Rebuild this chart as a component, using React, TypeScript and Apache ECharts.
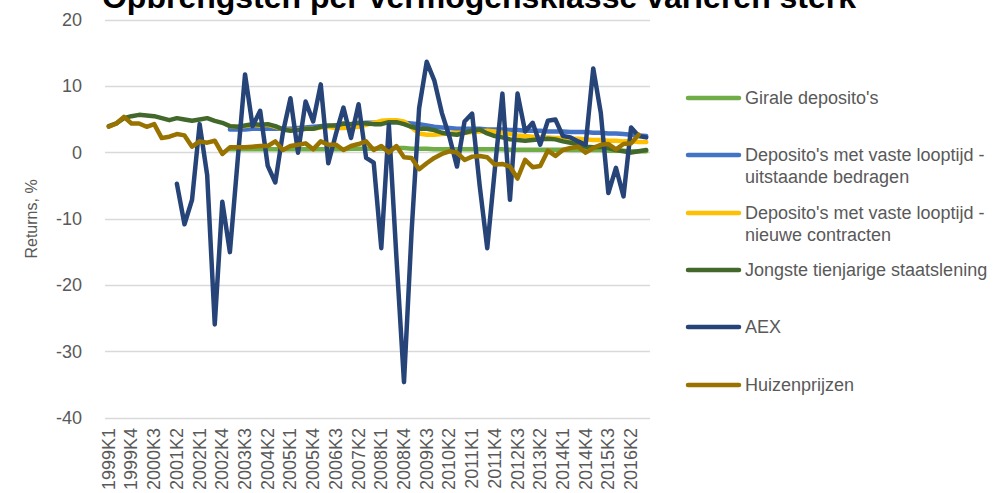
import React, { useEffect, useRef } from "react";
import * as echarts from "echarts";

const years = [1999, 2000, 2001, 2002, 2003, 2004, 2005, 2006, 2007, 2008, 2009, 2010, 2011, 2012, 2013, 2014, 2015, 2016];
const quarters = ["K1", "K2", "K3", "K4"];
const categories: string[] = [];
years.forEach((y) => quarters.forEach((q) => categories.push(`${y}${q}`)));

const title = "Opbrengsten per vermogensklasse variëren sterk";
const yAxisName = "Returns, %";

const N = null;

const girale = [
  N, N, N, N, N, N, N, N, N, N, N, N, N, N, N, N,
  0.5, 0.5, 0.5, 0.5, 0.5, 0.5, 0.5, 0.5, 0.5, 0.5, 0.5, 0.5, 0.5, 0.5, 0.5, 0.5,
  0.6, 0.6, 0.6, 0.6, 0.6, 0.6, 0.7, 0.7, 0.6, 0.6, 0.6, 0.5, 0.5, 0.5, 0.5, 0.5,
  0.5, 0.5, 0.5, 0.5, 0.5, 0.45, 0.45, 0.45, 0.45, 0.45, 0.45, 0.45, 0.45, 0.4, 0.4, 0.4,
  0.4, 0.4, 0.3, 0.3, 0.3, 0.2, 0.2, 0.2,
];

const uitstaande = [
  N, N, N, N, N, N, N, N, N, N, N, N, N, N, N, N,
  3.5, 3.5, 3.5, 3.6, 3.6, 3.6, 3.6, 3.6, 3.6, 3.7, 3.8, 3.9, 4.0, 4.0, 4.1, 4.2,
  4.3, 4.4, 4.5, 4.5, 4.6, 4.6, 4.6, 4.5, 4.4, 4.3, 4.1, 3.9, 3.8, 3.7, 3.6, 3.6,
  3.6, 3.6, 3.5, 3.5, 3.5, 3.4, 3.4, 3.3, 3.3, 3.3, 3.2, 3.2, 3.2, 3.1, 3.1, 3.1,
  3.0, 3.0, 2.9, 2.9, 2.8, 2.7, 2.6, 2.5,
];

const nieuwe = [
  N, N, N, N, N, N, N, N, N, N, N, N, N, N, N, N,
  4.0, 3.9, 4.0, 4.2, 4.1, 4.2, 3.9, 3.5, 3.4, 3.5, 3.6, 3.6, 3.8, 3.9, 3.7, 3.7,
  3.8, 3.9, 4.2, 4.5, 4.8, 4.9, 4.9, 4.7, 3.8, 2.9, 2.7, 2.7, 2.8, 2.9, 3.0, 3.0,
  3.1, 3.2, 3.3, 3.2, 3.0, 2.8, 2.6, 2.5, 2.4, 2.3, 2.3, 2.2, 2.2, 2.1, 2.1, 2.0,
  1.9, 1.9, 1.8, 1.8, 1.7, 1.7, 1.6, 1.6,
];

const staatslening = [
  4.0, 4.4, 5.2, 5.5, 5.7, 5.6, 5.5, 5.2, 4.9, 5.2, 5.0, 4.8, 5.0, 5.2, 4.8, 4.5,
  4.0, 3.9, 4.1, 4.3, 4.2, 4.3, 4.0, 3.5, 3.3, 3.4, 3.6, 3.6, 3.9, 4.1, 4.1, 4.4,
  4.3, 4.5, 4.4, 4.3, 4.3, 4.6, 4.6, 4.3, 3.9, 3.6, 3.6, 3.4, 3.0, 2.8, 2.7, 3.0,
  3.3, 3.5, 2.9, 2.5, 2.3, 2.0, 1.9, 1.8, 1.9, 2.0, 2.1, 2.0, 1.7, 1.5, 1.2, 0.9,
  0.8, 0.9, 0.7, 0.4, 0.2, 0.0, 0.2, 0.4,
];

const aex = [
  N, N, N, N, N, N, N, N, N, -4.7, -10.8, -7.1, 4.3, -3.4, -25.9, -7.4,
  -15.0, -1.5, 11.8, 4.0, 6.3, -2.0, -4.5, 3.0, 8.2, 0.0, 7.7, 4.7, 10.3, -1.6, 2.8, 6.8,
  2.2, 7.3, -0.8, -1.5, -14.4, 4.2, -15.8, -34.6, -12.0, 6.7, 13.7, 10.9, 6.0, 2.4, -2.1, 4.7,
  5.9, -5.0, -14.4, -2.5, 8.9, -7.1, 8.9, 3.2, 4.5, 1.2, 4.8, 5.0, 2.5, 2.3, 1.7, 1.2,
  12.7, 6.0, -6.1, -2.3, -6.6, 3.8, 2.5, 2.3,
];

const huizen = [
  3.9, 4.4, 5.4, 4.4, 4.4, 3.9, 4.3, 2.2, 2.4, 2.8, 2.6, 0.9, 1.7, 1.5, 1.8, -0.2,
  0.8, 0.8, 0.8, 0.9, 1.0, 1.0, 1.7, 0.4, 1.0, 1.2, 1.4, 0.5, 1.7, 1.2, 1.2, 0.4,
  1.0, 1.3, 1.7, 0.4, 1.0, 0.0, 1.0, -0.7, -0.8, -2.5, -1.6, -0.8, -0.2, 0.2, 0.0, -1.1,
  -0.6, -0.5, -0.7, -1.8, -1.7, -2.1, -3.9, -1.1, -2.2, -2.0, 0.3, -0.5, 0.4, 0.7, 0.9, 0.0,
  0.7, 1.2, 1.3, 0.5, 1.3, 1.4, 2.7, N,
];

const seriesNames = [
  "Girale deposito's",
  "Deposito's met vaste looptijd -\nuitstaande bedragen",
  "Deposito's met vaste looptijd -\nnieuwe contracten",
  "Jongste tienjarige staatslening",
  "AEX",
  "Huizenprijzen",
];
const seriesData = [girale, uitstaande, nieuwe, staatslening, aex, huizen];
const seriesColors = ["#70AD47", "#4472C4", "#FFC000", "#43682B", "#264478", "#997300"];

const yMin = -40;
const yMax = 20;
const yStep = 10;

const legendLineY = [98, 155, 213, 270, 327, 385];
const legendTextY = [98, 166, 223.5, 270, 327, 385];

export default function App() {
  const ref = useRef<HTMLDivElement>(null);
  useEffect(() => {
    if (!ref.current) return;
    const chart = echarts.init(ref.current, null, { renderer: "svg" });
    const font = "Liberation Sans, Arial, sans-serif";
    const legendGraphics: any[] = [];
    seriesNames.forEach((name, i) => {
      legendGraphics.push({
        type: "line",
        shape: { x1: 688, y1: legendLineY[i], x2: 739, y2: legendLineY[i] },
        style: { stroke: seriesColors[i], lineWidth: 4.5, lineCap: "round" },
      });
      legendGraphics.push({
        type: "text",
        x: 745,
        y: legendTextY[i],
        style: {
          text: name,
          fill: "#595959",
          fontSize: 18,
          fontFamily: font,
          lineHeight: 22,
          verticalAlign: "middle",
          align: "left",
        },
      });
    });
    chart.setOption({
      animation: false,
      textStyle: { fontFamily: font },
      grid: { left: 105, right: 347, top: 20, bottom: 74, containLabel: false },
      xAxis: {
        type: "category",
        data: categories,
        boundaryGap: true,
        axisLine: { show: false },
        axisTick: { show: false },
        axisLabel: {
          rotate: 90,
          interval: 2,
          fontSize: 18,
          color: "#595959",
          margin: 10,
          fontFamily: font,
        },
        splitLine: { show: false },
      },
      yAxis: {
        type: "value",
        min: yMin,
        max: yMax,
        interval: yStep,
        name: yAxisName,
        nameLocation: "middle",
        nameGap: 66,
        nameRotate: 90,
        nameTextStyle: { fontSize: 16, color: "#595959", fontFamily: font },
        axisLine: { show: false },
        axisTick: { show: false },
        axisLabel: { fontSize: 18, color: "#595959", margin: 23, fontFamily: font },
        splitLine: { lineStyle: { color: "#D9D9D9", width: 1.3 } },
      },
      series: seriesNames.map((name, i) => ({
        name,
        type: "line",
        data: seriesData[i],
        symbol: "none",
        connectNulls: false,
        lineStyle: { color: seriesColors[i], width: 4.5, cap: "round", join: "round" },
        itemStyle: { color: seriesColors[i] },
        z: 2 + i,
      })),
      graphic: [
        {
          type: "text",
          x: 479,
          y: -3,
          style: {
            text: title,
            fill: "#000000",
            fontSize: 32,
            fontWeight: "bold",
            fontFamily: font,
            align: "center",
            verticalAlign: "middle",
          },
        },
        ...legendGraphics,
      ],
    });
    return () => chart.dispose();
  }, []);
  return (
    <div
      ref={ref}
      style={{ position: "fixed", left: 0, top: 0, width: 997, height: 493, background: "#ffffff" }}
    />
  );
}
